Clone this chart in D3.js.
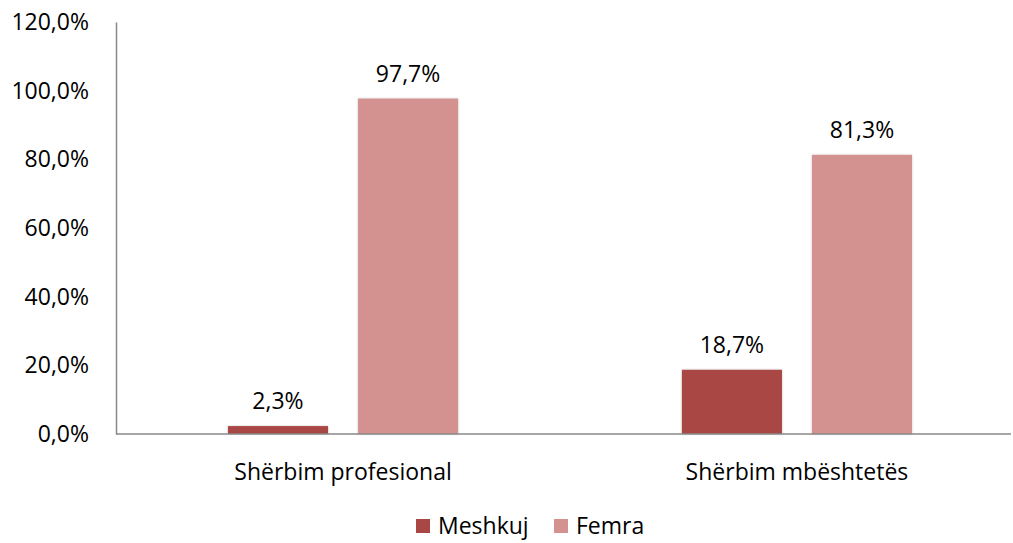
<!DOCTYPE html>
<html>
<head>
<meta charset="utf-8">
<script src="https://cdn.jsdelivr.net/npm/d3@7"></script>
<style>
  body { margin: 0; background: #fff; }
  svg { display: block; font-family: 'Open Sans', sans-serif; }
</style>
</head>
<body>
<svg id="chart"></svg>
<script>
const categories = ['Shërbim profesional', 'Shërbim mbështetës']
const seriesNames = ['Meshkuj', 'Femra']
const meshkuj = [2.3, 18.7]
const femra = [97.7, 81.3]
const yTicks = [0, 20, 40, 60, 80, 100, 120]

const COLORS = { Meshkuj: '#a94744', Femra: '#d39190' }
const W = 1013, H = 543
const FS = '23px'
const fmt = v => d3.format('.1f')(v).replace('.', ',') + '%'

const svg = d3.select('#chart').attr('width', W).attr('height', H)

const defs = svg.append('defs')
const f = defs.append('filter').attr('id', 'shadow')
  .attr('x', '-10%').attr('y', '-10%').attr('width', '120%').attr('height', '120%')
f.append('feDropShadow').attr('dx', 0).attr('dy', 0).attr('stdDeviation', 1.2)
  .attr('flood-color', '#000').attr('flood-opacity', 0.25)

const x0 = d3.scaleBand().domain(categories).range([116, 1024])
  .paddingInner(0.493).paddingOuter(0.2467)
const x1 = d3.scaleBand().domain(seriesNames).range([0, x0.bandwidth()])
  .paddingInner(0.2308)
const y = d3.scaleLinear().domain([0, 120]).range([434, 22])

const rows = categories.map((c, i) => ({
  cat: c,
  vals: [{ s: 'Meshkuj', v: meshkuj[i] }, { s: 'Femra', v: femra[i] }]
}))

// y axis
const yAxis = svg.append('g').attr('transform', 'translate(116,0)')
  .call(d3.axisLeft(y).tickValues(yTicks).tickSize(0).tickPadding(27).tickFormat(fmt))
yAxis.select('.domain').attr('stroke', '#898989').attr('stroke-width', 1.5)
yAxis.selectAll('text').attr('font-size', FS).attr('fill', '#000')
  .attr('font-family', 'Open Sans, sans-serif')

// bars
const g = svg.append('g').selectAll('g').data(rows).join('g')
  .attr('transform', d => `translate(${x0(d.cat)},0)`)

g.selectAll('rect').data(d => d.vals).join('rect')
  .attr('x', d => x1(d.s))
  .attr('y', d => y(d.v))
  .attr('width', x1.bandwidth())
  .attr('height', d => y(0) - y(d.v))
  .attr('fill', d => COLORS[d.s])
  .attr('filter', 'url(#shadow)')

g.selectAll('text').data(d => d.vals).join('text')
  .attr('x', d => x1(d.s) + x1.bandwidth() / 2)
  .attr('y', d => y(d.v) - 17)
  .attr('text-anchor', 'middle')
  .attr('font-size', FS)
  .attr('fill', '#000')
  .text(d => fmt(d.v))

// x axis
svg.append('line')
  .attr('x1', 116).attr('x2', 1011)
  .attr('y1', y(0)).attr('y2', y(0))
  .attr('stroke', '#898989').attr('stroke-width', 1.5)

svg.append('g').selectAll('text').data(categories).join('text')
  .attr('x', d => x0(d) + x0.bandwidth() / 2)
  .attr('y', 480)
  .attr('text-anchor', 'middle')
  .attr('font-size', FS)
  .attr('fill', '#000')
  .text(d => d)

// legend
const legendX = [416, 554]
const lg = svg.append('g').selectAll('g').data(seriesNames).join('g')
  .attr('transform', (d, i) => `translate(${legendX[i]},519)`)
lg.append('rect').attr('width', 14).attr('height', 14).attr('fill', d => COLORS[d])
lg.append('text').attr('x', 22).attr('y', 15)
  .attr('font-size', FS).attr('fill', '#000')
  .text(d => d)
</script>
</body>
</html>
